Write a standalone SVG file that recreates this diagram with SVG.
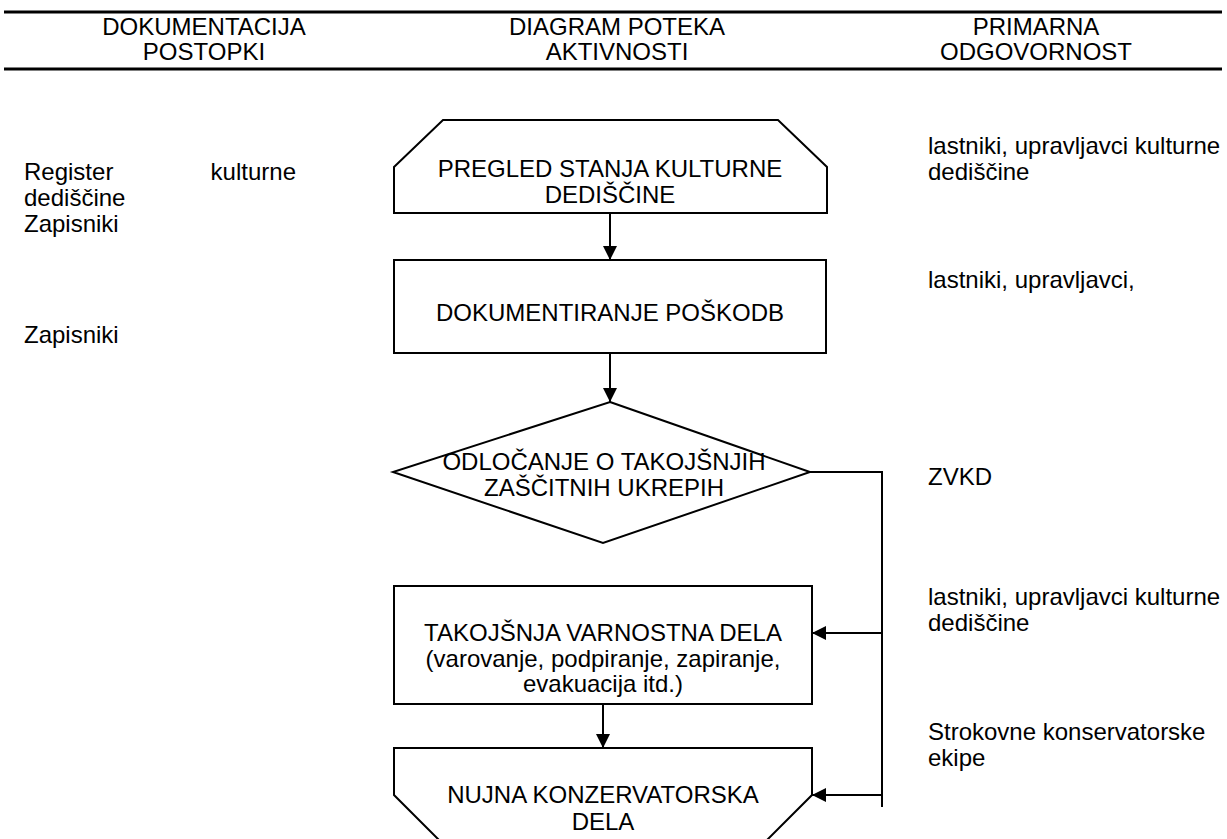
<svg xmlns="http://www.w3.org/2000/svg" width="1227" height="839" viewBox="0 0 1227 839">
<defs>
<marker id="ah" viewBox="0 0 10 10" refX="10" refY="5" markerWidth="15" markerHeight="14" markerUnits="userSpaceOnUse" orient="auto">
<path d="M0,0 L10,5 L0,10 Z" fill="#000"/>
</marker>
<style>
text{font-family:"Liberation Sans",Arial,sans-serif;font-size:24px;fill:#000}
.c{text-anchor:middle}
.shape{fill:#fff;stroke:#000;stroke-width:2}
.hdr{stroke:#000;stroke-width:3}
.conn{fill:none;stroke:#000;stroke-width:2}
</style>
</defs>
<rect width="1227" height="839" fill="#fff"/>
<g id="header">
<line class="hdr" x1="4" y1="12" x2="1222" y2="12"/>
<line class="hdr" x1="4" y1="69" x2="1222" y2="69"/>
<text class="c" x="204" y="35">DOKUMENTACIJA</text>
<text class="c" x="204" y="60">POSTOPKI</text>
<text class="c" x="617" y="35">DIAGRAM POTEKA</text>
<text class="c" x="617" y="60">AKTIVNOSTI</text>
<text class="c" x="1036" y="35">PRIMARNA</text>
<text class="c" x="1036" y="60">ODGOVORNOST</text>
</g>
<g id="documentation">
<text x="24" y="180">Register</text>
<text x="296" y="180" text-anchor="end">kulturne</text>
<text x="24" y="206">dediščine</text>
<text x="24" y="232">Zapisniki</text>
<text x="24" y="343">Zapisniki</text>
</g>
<g id="responsibility">
<text x="928" y="154">lastniki, upravljavci kulturne</text>
<text x="928" y="180">dediščine</text>
<text x="928" y="288">lastniki, upravljavci,</text>
<text x="928" y="485">ZVKD</text>
<text x="928" y="605">lastniki, upravljavci kulturne</text>
<text x="928" y="631">dediščine</text>
<text x="928" y="740">Strokovne konservatorske</text>
<text x="928" y="766">ekipe</text>
</g>
<g id="connectors">
<line class="conn" x1="610" y1="213" x2="610" y2="260" marker-end="url(#ah)"/>
<line class="conn" x1="610" y1="353" x2="610" y2="402" marker-end="url(#ah)"/>
<polyline class="conn" points="810,472 882,472 882,807"/>
<line class="conn" x1="882" y1="633" x2="812" y2="633" marker-end="url(#ah)"/>
<line class="conn" x1="882" y1="795" x2="812" y2="795" marker-end="url(#ah)"/>
<line class="conn" x1="603" y1="704" x2="603" y2="748" marker-end="url(#ah)"/>
</g>
<g id="node-pregled">
<polygon class="shape" points="394,167 443,120 778,120 827,167 827,213 394,213"/>
<text class="c" x="610" y="177">PREGLED STANJA KULTURNE</text>
<text class="c" x="610" y="203">DEDIŠČINE</text>
</g>
<g id="node-dokumentiranje">
<rect class="shape" x="394" y="260" width="432" height="93"/>
<text class="c" x="610" y="321">DOKUMENTIRANJE POŠKODB</text>
</g>
<g id="node-odlocanje">
<polygon class="shape" points="610,402 810,472 603,543 393,472"/>
<text class="c" x="604" y="470">ODLOČANJE O TAKOJŠNJIH</text>
<text class="c" x="604" y="496">ZAŠČITNIH UKREPIH</text>
</g>
<g id="node-takojsnja">
<rect class="shape" x="394" y="586" width="418" height="118"/>
<text class="c" x="603" y="641">TAKOJŠNJA VARNOSTNA DELA</text>
<text class="c" x="603" y="667">(varovanje, podpiranje, zapiranje,</text>
<text class="c" x="603" y="692">evakuacija itd.)</text>
</g>
<g id="node-nujna">
<polygon class="shape" points="394,748 812,748 812,795 765,842 441,842 394,795"/>
<text class="c" x="603" y="803">NUJNA KONZERVATORSKA</text>
<text class="c" x="603" y="830">DELA</text>
</g>
</svg>
